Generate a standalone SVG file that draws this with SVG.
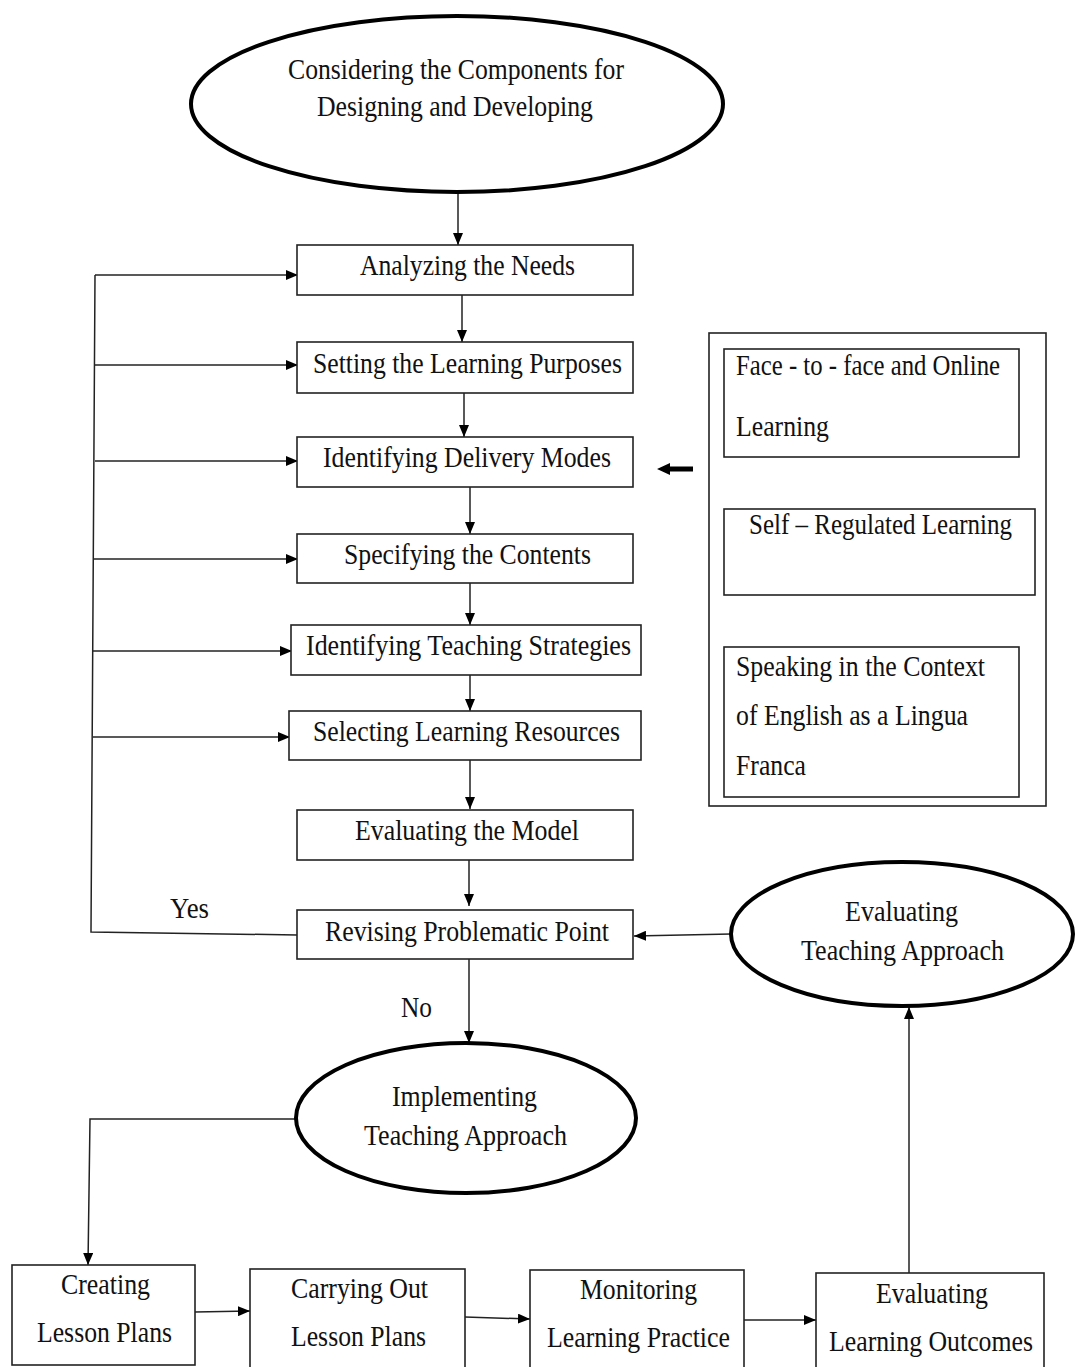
<svg xmlns="http://www.w3.org/2000/svg" width="1075" height="1367" viewBox="0 0 1075 1367">
<style>
text{font-family:"Liberation Serif","Times New Roman",serif;font-size:29px;fill:#111}
.box{fill:#fff;stroke:#222;stroke-width:1.6}
.ell{fill:#fff;stroke:#000;stroke-width:4}
.ln{fill:none;stroke:#222;stroke-width:1.5}
</style>
<defs>
<marker id="ah" viewBox="0 0 12 10" refX="12" refY="5" markerWidth="12" markerHeight="10" markerUnits="userSpaceOnUse" orient="auto">
<path d="M0,0 L12,5 L0,10 Z" fill="#000"/>
</marker>
</defs>
<rect width="1075" height="1367" fill="#fff"/>

<g id="connectors">
<line class="ln" x1="458" y1="193" x2="458" y2="245" marker-end="url(#ah)"/>
<line class="ln" x1="462" y1="295" x2="462" y2="342" marker-end="url(#ah)"/>
<line class="ln" x1="464" y1="393" x2="464" y2="437" marker-end="url(#ah)"/>
<line class="ln" x1="470" y1="487" x2="470" y2="534" marker-end="url(#ah)"/>
<line class="ln" x1="470" y1="583" x2="470" y2="625" marker-end="url(#ah)"/>
<line class="ln" x1="470" y1="675" x2="470" y2="711" marker-end="url(#ah)"/>
<line class="ln" x1="470" y1="760" x2="470" y2="809" marker-end="url(#ah)"/>
<line class="ln" x1="469" y1="860" x2="469" y2="906" marker-end="url(#ah)"/>
<line class="ln" x1="469" y1="959" x2="469" y2="1043" marker-end="url(#ah)"/>
<path class="ln" d="M297,935 L91,932 L95,275"/>
<line class="ln" x1="95" y1="275" x2="298" y2="275" marker-end="url(#ah)"/>
<line class="ln" x1="95" y1="365" x2="298" y2="365" marker-end="url(#ah)"/>
<line class="ln" x1="95" y1="461" x2="298" y2="461" marker-end="url(#ah)"/>
<line class="ln" x1="94" y1="559" x2="298" y2="559" marker-end="url(#ah)"/>
<line class="ln" x1="93" y1="651" x2="292" y2="651" marker-end="url(#ah)"/>
<line class="ln" x1="93" y1="737" x2="290" y2="737" marker-end="url(#ah)"/>
<path d="M693,466.5 L670,466.5 L670,463 L657,469 L670,475 L670,471.5 L693,471.5 Z" fill="#000"/>
<line class="ln" x1="731" y1="934" x2="634" y2="936" marker-end="url(#ah)"/>
<line class="ln" x1="909" y1="1273" x2="909" y2="1007" marker-end="url(#ah)"/>
<path class="ln" d="M296,1119 L90,1119 L88,1265" marker-end="url(#ah)"/>
<line class="ln" x1="195" y1="1312" x2="250" y2="1311" marker-end="url(#ah)"/>
<line class="ln" x1="465" y1="1317" x2="530" y2="1319" marker-end="url(#ah)"/>
<line class="ln" x1="744" y1="1320" x2="816" y2="1320" marker-end="url(#ah)"/>
</g>

<g id="n-considering">
<ellipse class="ell" cx="457" cy="104" rx="266" ry="88"/>
<text x="288" y="79" textLength="336" lengthAdjust="spacingAndGlyphs">Considering the Components for</text>
<text x="317" y="116" textLength="276" lengthAdjust="spacingAndGlyphs">Designing and Developing</text>
</g>

<g id="n-analyzing">
<rect class="box" x="297" y="245" width="336" height="50"/>
<text x="360" y="275" textLength="215" lengthAdjust="spacingAndGlyphs">Analyzing the Needs</text>
</g>
<g id="n-setting">
<rect class="box" x="297" y="342" width="336" height="51"/>
<text x="313" y="373" textLength="309" lengthAdjust="spacingAndGlyphs">Setting the Learning Purposes</text>
</g>
<g id="n-delivery">
<rect class="box" x="297" y="437" width="336" height="50"/>
<text x="323" y="467" textLength="288" lengthAdjust="spacingAndGlyphs">Identifying Delivery Modes</text>
</g>
<g id="n-contents">
<rect class="box" x="297" y="534" width="336" height="49"/>
<text x="344" y="564" textLength="247" lengthAdjust="spacingAndGlyphs">Specifying the Contents</text>
</g>
<g id="n-strategies">
<rect class="box" x="291" y="625" width="350" height="50"/>
<text x="306" y="655" textLength="325" lengthAdjust="spacingAndGlyphs">Identifying Teaching Strategies</text>
</g>
<g id="n-resources">
<rect class="box" x="289" y="711" width="352" height="49"/>
<text x="313" y="741" textLength="307" lengthAdjust="spacingAndGlyphs">Selecting Learning Resources</text>
</g>
<g id="n-evalmodel">
<rect class="box" x="297" y="810" width="336" height="50"/>
<text x="355" y="840" textLength="224" lengthAdjust="spacingAndGlyphs">Evaluating the Model</text>
</g>
<g id="n-revising">
<rect class="box" x="297" y="910" width="336" height="49"/>
<text x="325" y="941" textLength="284" lengthAdjust="spacingAndGlyphs">Revising Problematic Point</text>
</g>
<g id="labels">
<text x="170" y="918" textLength="39" lengthAdjust="spacingAndGlyphs">Yes</text>
<text x="401" y="1017" textLength="31" lengthAdjust="spacingAndGlyphs">No</text>
</g>

<g id="n-modes">
<rect class="box" x="709" y="333" width="337" height="473"/>
<rect class="box" x="724" y="349" width="295" height="108"/>
<text x="736" y="375" textLength="264" lengthAdjust="spacingAndGlyphs">Face - to - face and Online</text>
<text x="736" y="436" textLength="93" lengthAdjust="spacingAndGlyphs">Learning</text>
<rect class="box" x="724" y="509" width="311" height="86"/>
<text x="749" y="534" textLength="263" lengthAdjust="spacingAndGlyphs">Self – Regulated Learning</text>
<rect class="box" x="724" y="647" width="295" height="150"/>
<text x="736" y="676" textLength="249" lengthAdjust="spacingAndGlyphs">Speaking in the Context</text>
<text x="736" y="725" textLength="232" lengthAdjust="spacingAndGlyphs">of English as a Lingua</text>
<text x="736" y="775" textLength="70" lengthAdjust="spacingAndGlyphs">Franca</text>
</g>

<g id="n-evalteaching">
<ellipse class="ell" cx="902" cy="934" rx="171" ry="72"/>
<text x="845" y="921" textLength="113" lengthAdjust="spacingAndGlyphs">Evaluating</text>
<text x="801" y="960" textLength="203" lengthAdjust="spacingAndGlyphs">Teaching Approach</text>
</g>

<g id="n-implementing">
<ellipse class="ell" cx="466" cy="1118" rx="170" ry="75"/>
<text x="392" y="1106" textLength="145" lengthAdjust="spacingAndGlyphs">Implementing</text>
<text x="364" y="1145" textLength="203" lengthAdjust="spacingAndGlyphs">Teaching Approach</text>
</g>

<g id="n-creating">
<rect class="box" x="12" y="1265" width="183" height="100"/>
<text x="61" y="1294" textLength="89" lengthAdjust="spacingAndGlyphs">Creating</text>
<text x="37" y="1342" textLength="135" lengthAdjust="spacingAndGlyphs">Lesson Plans</text>
</g>
<g id="n-carrying">
<rect class="box" x="250" y="1269" width="215" height="100"/>
<text x="291" y="1298" textLength="137" lengthAdjust="spacingAndGlyphs">Carrying Out</text>
<text x="291" y="1346" textLength="135" lengthAdjust="spacingAndGlyphs">Lesson Plans</text>
</g>
<g id="n-monitoring">
<rect class="box" x="530" y="1270" width="214" height="100"/>
<text x="580" y="1299" textLength="117" lengthAdjust="spacingAndGlyphs">Monitoring</text>
<text x="547" y="1347" textLength="183" lengthAdjust="spacingAndGlyphs">Learning Practice</text>
</g>
<g id="n-evaloutcomes">
<rect class="box" x="816" y="1273" width="228" height="100"/>
<text x="876" y="1303" textLength="112" lengthAdjust="spacingAndGlyphs">Evaluating</text>
<text x="829" y="1351" textLength="204" lengthAdjust="spacingAndGlyphs">Learning Outcomes</text>
</g>
</svg>
